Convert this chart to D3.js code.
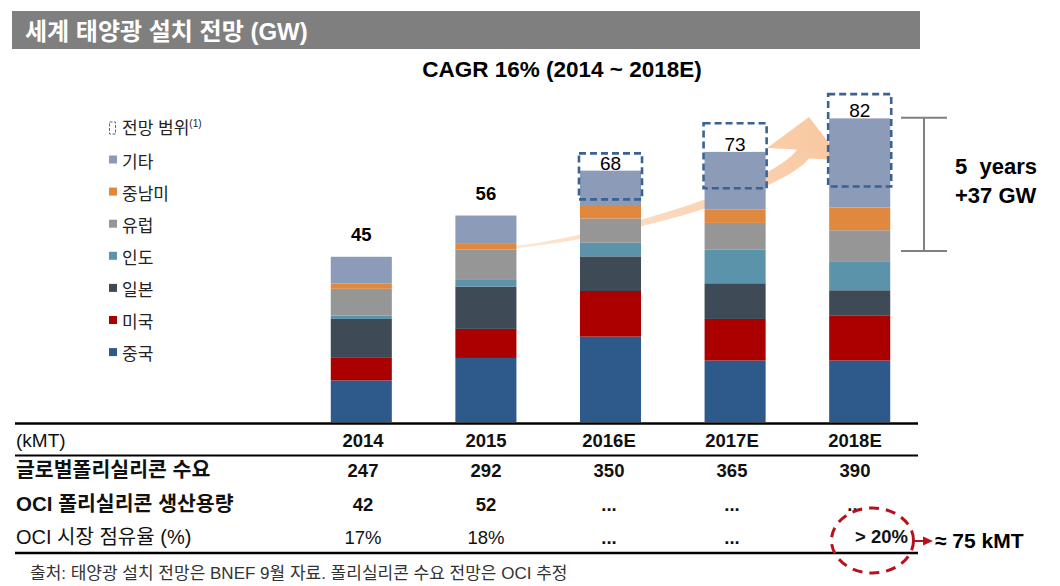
<!DOCTYPE html>
<html><head><meta charset="utf-8">
<script src="https://cdn.jsdelivr.net/npm/d3@7"></script>
<style>
body{margin:0;background:#fff}
text{font-family:'Liberation Sans',Arial,'Noto Sans CJK KR',sans-serif}
</style>
</head><body>
<svg id="c" width="1060" height="586"></svg>
<script>
// ---- data ----
const years = ["2014","2015","2016E","2017E","2018E"];
const seriesNames = ["중국","미국","일본","인도","유럽","중남미","기타"];
const china  = [11.3, 17.4, 23.2, 16.7, 16.7];
const usa    = [6.3, 7.9, 12.4, 11.3, 12.3];
const japan  = [10.4, 11.5, 9.4, 9.7, 6.8];
const india  = [0.9, 1.8, 3.7, 9.1, 7.7];
const europe = [7.3, 8.3, 6.6, 7.3, 8.6];
const latam  = [1.4, 1.5, 3.4, 3.6, 6.2];
const other  = [7.3, 7.7, 9.6, 15.7, 24.2];
const totals = [45, 56, 68, 73, 82];
const rangeLow  = [null, null, 60.5, 63.5, 64.0];
const rangeHigh = [null, null, 73.0, 81.2, 89.1];
const bracketRange = [46.5, 82.7];
const rangeLegend = "전망 범위";
const tableRowLabels = ["(kMT)", "글로벌폴리실리콘 수요", "OCI 폴리실리콘 생산용량", "OCI 시장 점유율 (%)"];
const demand   = ["247","292","350","365","390"];
const capacity = ["42","52","...","...","..."];
const share    = ["17%","18%","...","...","> 20%"];

const colors = {"중국":"#2e5a8b","미국":"#ab0000","일본":"#3e4a55","인도":"#5a93aa","유럽":"#969696","중남미":"#e0893e","기타":"#8b9bb8"};
const seriesVals = [china, usa, japan, india, europe, latam, other];

const svg = d3.select("#c");
const rows = years.map((yr,i)=>{const o={year:yr}; seriesNames.forEach((s,k)=>o[s]=seriesVals[k][i]); return o;});
const stacked = d3.stack().keys(seriesNames)(rows);

const x = d3.scaleBand().domain(years).range([299,922]).paddingInner(0.51).paddingOuter(0.255);
const y = d3.scaleLinear().domain([0,90]).range([422, 422-90*3.68]);
const tx = d3.scalePoint().domain(years).range([363, 855]);

// ---- title bar ----
svg.append("rect").attr("x",12).attr("y",11).attr("width",908).attr("height",38).attr("fill","#7f7f7f");
svg.append("text").attr("x",25).attr("y",39.5).attr("fill","#fff").attr("font-weight","bold").attr("font-size",24)
  .text("세계 태양광 설치 전망 (GW)");
svg.append("text").attr("x",562).attr("y",77).attr("text-anchor","middle").attr("font-weight","bold").attr("font-size",22.5)
  .text("CAGR 16% (2014 ~ 2018E)");

// ---- growth arrow (behind bars) ----
const defs = svg.append("defs");
const grad = defs.append("linearGradient").attr("id","ag").attr("gradientUnits","userSpaceOnUse")
  .attr("x1",516).attr("y1",247).attr("x2",830).attr("y2",120);
grad.append("stop").attr("offset","0").attr("stop-color","#fde6d4");
grad.append("stop").attr("offset","1").attr("stop-color","#f8c8a0");
(function(){
  const A=[x("2015")+x.bandwidth(), 247], C1=[640,232], C2=[780,185], B=[803,154];
  const bez=(t)=>{const u=1-t;return [u*u*u*A[0]+3*u*u*t*C1[0]+3*u*t*t*C2[0]+t*t*t*B[0], u*u*u*A[1]+3*u*u*t*C1[1]+3*u*t*t*C2[1]+t*t*t*B[1]];};
  const der=(t)=>{const u=1-t;return [3*u*u*(C1[0]-A[0])+6*u*t*(C2[0]-C1[0])+3*t*t*(B[0]-C2[0]), 3*u*u*(C1[1]-A[1])+6*u*t*(C2[1]-C1[1])+3*t*t*(B[1]-C2[1])];};
  const up=[],lo=[];
  for(let i=0;i<=40;i++){const t=i/40;const p=bez(t),d=der(t);const L=Math.hypot(d[0],d[1]);const n=[-d[1]/L,d[0]/L];const w=(2+13*t)/2;
    up.push([p[0]-n[0]*w,p[1]-n[1]*w]);lo.push([p[0]+n[0]*w,p[1]+n[1]*w]);}
  const head=[[767,148],[809,117],[842,160]];
  const pts=[...up, ...head, ...lo.reverse()];
  svg.append("path").attr("d","M"+pts.map(p=>p.join(",")).join("L")+"Z").attr("fill","url(#ag)");
})();

// ---- bars ----
svg.append("g").selectAll("g").data(stacked).join("g").attr("fill",d=>colors[d.key])
  .selectAll("rect").data(d=>d).join("rect")
  .attr("x",d=>x(d.data.year)).attr("width",x.bandwidth())
  .attr("y",d=>y(d[1])).attr("height",d=>y(d[0])-y(d[1]));

// ---- forecast range boxes ----
years.forEach((yr,i)=>{
  if(rangeLow[i]==null) return;
  svg.append("rect").attr("x",x(yr)-1).attr("width",x.bandwidth()+2)
    .attr("y",y(rangeHigh[i])).attr("height",y(rangeLow[i])-y(rangeHigh[i]))
    .attr("fill","none").attr("stroke","#3a6391").attr("stroke-width",2.6).attr("stroke-dasharray","7,4");
});

// ---- total labels ----
years.forEach((yr,i)=>{
  const est = rangeLow[i]!=null;
  const top = y(d3.sum(seriesVals,s=>s[i]));
  svg.append("text").attr("x",x(yr)+x.bandwidth()/2).attr("y", est? top-1 : top-16)
    .attr("text-anchor","middle").attr("font-size",est?19:18.5).attr("font-weight",est?"normal":"bold")
    .text(totals[i]);
});

// ---- legend ----
const lg = svg.append("g");
lg.append("rect").attr("x",109.5).attr("y",122).attr("width",6).attr("height",12).attr("fill","none")
  .attr("stroke","#4a6a90").attr("stroke-width",1).attr("stroke-dasharray","3,1.5");
const lt = lg.append("text").attr("x",122).attr("y",134).attr("font-size",17).attr("fill","#222");
lt.append("tspan").text(rangeLegend);
lt.append("tspan").attr("font-size",10).attr("dy",-7).text("(1)");
const legendOrder = seriesNames.slice().reverse();
legendOrder.forEach((s,i)=>{
  const cy = 161 + i*32.1;
  lg.append("rect").attr("x",109).attr("y",cy-5.5).attr("width",8).attr("height",8).attr("fill",colors[s]);
  lg.append("text").attr("x",122).attr("y",cy+6.5).attr("font-size",17).attr("fill","#222").text(s);
});

// ---- bracket ----
const bk = svg.append("g").attr("stroke","#808080").attr("stroke-width",2);
bk.append("line").attr("x1",924).attr("x2",924).attr("y1",y(bracketRange[1])).attr("y2",y(bracketRange[0]));
bk.append("line").attr("x1",901).attr("x2",947).attr("y1",y(bracketRange[1])).attr("y2",y(bracketRange[1]));
bk.append("line").attr("x1",901).attr("x2",947).attr("y1",y(bracketRange[0])).attr("y2",y(bracketRange[0]));
svg.append("text").attr("x",955).attr("y",174).attr("font-size",22).attr("font-weight","bold").style("white-space","pre").text("5  years");
svg.append("text").attr("x",955).attr("y",203).attr("font-size",22).attr("font-weight","bold").text("+37 GW");

// ---- table ----
const line=(yy,w)=>svg.append("line").attr("x1",15).attr("x2",918).attr("y1",yy).attr("y2",yy).attr("stroke","#000").attr("stroke-width",w);
line(423.5,2.5); line(455.5,2); line(553,2.5);
const baselines=[447,477,511,544];
const weights=["normal","bold","bold","normal"];
const labelSizes=[19,20.5,20.5,20];
tableRowLabels.forEach((t,r)=>{
  svg.append("text").attr("x",16).attr("y",baselines[r]).attr("font-size",labelSizes[r]).attr("font-weight",weights[r]).attr("fill","#111").text(t);
});
const tableData=[years, demand, capacity, share];
const cellWeights=["bold","bold","bold","normal"];
tableData.forEach((arr,r)=>{
  arr.forEach((v,i)=>{
    const special = (r===3 && i===4);
    const dots = v==="...";
    svg.append("text").attr("x", special? 855 : tx(years[i])).attr("y",baselines[r]-(special?1:0))
      .attr("text-anchor", special? "start":"middle").attr("font-size",18.5)
      .attr("font-weight", (special||dots)? "bold" : cellWeights[r]).attr("fill","#111").text(v);
  });
});

// ---- highlight ellipse and callout ----
svg.append("ellipse").attr("cx",872.5).attr("cy",540.5).attr("rx",41).attr("ry",32.5)
  .attr("fill","none").attr("stroke","#b5121b").attr("stroke-width",3).attr("stroke-dasharray","10,7");
svg.append("path").attr("d","M913,548V541H925").attr("fill","none").attr("stroke","#b5121b").attr("stroke-width",2);
svg.append("path").attr("d","M923,536.5L933,541L923,545.5Z").attr("fill","#b5121b");
svg.append("text").attr("x",935).attr("y",548).attr("font-size",21).attr("font-weight","bold").text("≈ 75 kMT");

// ---- footnote ----
svg.append("text").attr("x",30).attr("y",579).attr("font-size",17).attr("fill","#333")
  .text("출처: 태양광 설치 전망은 BNEF 9월 자료. 폴리실리콘 수요 전망은 OCI 추정");
</script>
</body></html>
